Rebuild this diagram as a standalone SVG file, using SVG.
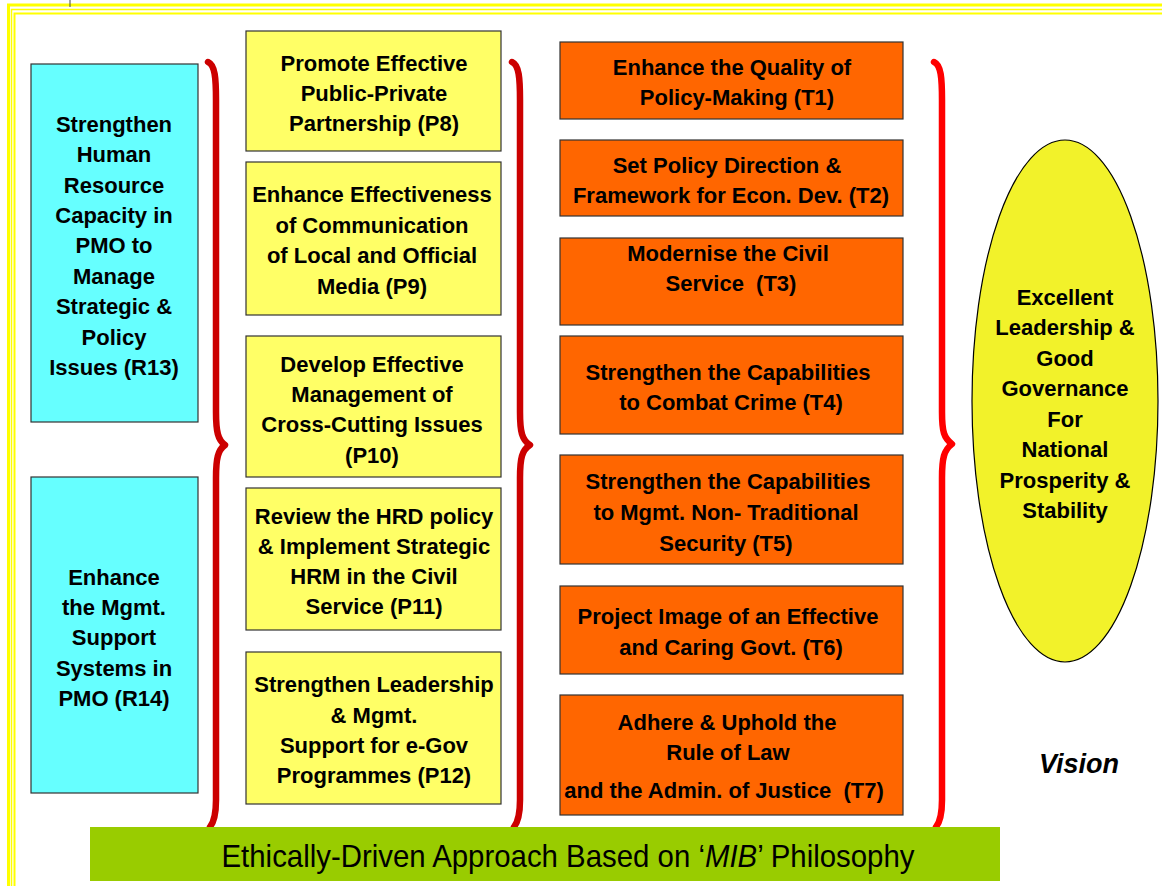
<svg xmlns="http://www.w3.org/2000/svg" width="1162" height="886" viewBox="0 0 1162 886">
<style>
text{font-family:"Liberation Sans",Arial,sans-serif;font-weight:bold;font-size:22px;fill:#000;text-anchor:middle}
.cyan{fill:#66ffff;stroke:#333;stroke-width:1.2}
.yel{fill:#ffff66;stroke:#333;stroke-width:1.2}
.org{fill:#ff6600;stroke:#333;stroke-width:1.2}
.brace{fill:none;stroke-width:6.5;stroke-linecap:round;stroke-linejoin:round}
.frame{fill:none;stroke:#ffff00}
</style>
<rect x="0" y="0" width="1162" height="886" fill="#fff"/>
<g id="frame">
<rect class="frame" x="8.5" y="5" width="1170" height="900" stroke-width="3"/>
<rect class="frame" x="11.5" y="9.5" width="1170" height="900" stroke-width="1.5"/>
<rect class="frame" x="14.5" y="13.5" width="1170" height="900" stroke-width="2"/>
<line x1="70" y1="0" x2="70" y2="7" stroke="#444" stroke-width="1"/>
</g>
<g id="connectors">
<path class="brace" stroke="#cc0000" d="M208,62 C215,65 216,78 216,100 L216,412 C216,432 218,440 225,445 C218,450 216,458 216,478 L216,800 C216,814 214,822 210,827"/>
<path class="brace" stroke="#cc0000" d="M512,62 C519,65 520,78 520,100 L520,412 C520,432 522,440 530,445 C522,450 520,458 520,478 L520,800 C520,814 518,822 514,827"/>
<path class="brace" stroke="#ff0000" d="M934,62 C941,65 942,78 942,100 L942,412 C942,432 944,438 952,444 C944,450 942,458 942,478 L942,800 C942,814 940,822 936,827"/>
</g>
<g id="R13">
<rect class="cyan" x="31" y="64" width="167" height="358"/>
<text x="114" y="132">Strengthen</text>
<text x="114" y="162">Human</text>
<text x="114" y="193">Resource</text>
<text x="114" y="223">Capacity in</text>
<text x="114" y="253">PMO to</text>
<text x="114" y="284">Manage</text>
<text x="114" y="314">Strategic &amp;</text>
<text x="114" y="345">Policy</text>
<text x="114" y="375">Issues (R13)</text>
</g>
<g id="R14">
<rect class="cyan" x="31" y="477" width="167" height="316"/>
<text x="114" y="585">Enhance</text>
<text x="114" y="615">the Mgmt.</text>
<text x="114" y="645">Support</text>
<text x="114" y="676">Systems in</text>
<text x="114" y="706">PMO (R14)</text>
</g>
<g id="P8">
<rect class="yel" x="246" y="31" width="255" height="120"/>
<text x="374" y="71">Promote Effective</text>
<text x="374" y="101">Public-Private</text>
<text x="374" y="131">Partnership (P8)</text>
</g>
<g id="P9">
<rect class="yel" x="246" y="162" width="255" height="153"/>
<text x="372" y="202">Enhance Effectiveness</text>
<text x="372" y="233">of Communication</text>
<text x="372" y="263">of Local and Official</text>
<text x="372" y="294">Media (P9)</text>
</g>
<g id="P10">
<rect class="yel" x="246" y="336" width="255" height="141"/>
<text x="372" y="372">Develop Effective</text>
<text x="372" y="402">Management of</text>
<text x="372" y="432">Cross-Cutting Issues</text>
<text x="372" y="463">(P10)</text>
</g>
<g id="P11">
<rect class="yel" x="246" y="488" width="255" height="142"/>
<text x="374" y="524">Review the HRD policy</text>
<text x="374" y="554">&amp; Implement Strategic</text>
<text x="374" y="584">HRM in the Civil</text>
<text x="374" y="614">Service (P11)</text>
</g>
<g id="P12">
<rect class="yel" x="246" y="652" width="255" height="152"/>
<text x="374" y="692">Strengthen Leadership</text>
<text x="374" y="723">&amp; Mgmt.</text>
<text x="374" y="753">Support for e-Gov</text>
<text x="374" y="783">Programmes (P12)</text>
</g>
<g id="T1">
<rect class="org" x="560" y="42" width="343" height="77"/>
<text x="732" y="75">Enhance the Quality of</text>
<text x="737" y="105">Policy-Making (T1)</text>
</g>
<g id="T2">
<rect class="org" x="560" y="140" width="343" height="76"/>
<text x="727" y="173">Set Policy Direction &amp;</text>
<text x="731" y="203">Framework for Econ. Dev. (T2)</text>
</g>
<g id="T3">
<rect class="org" x="560" y="238" width="343" height="87"/>
<text x="728" y="261">Modernise the Civil</text>
<text x="731" y="291" xml:space="preserve">Service  (T3)</text>
</g>
<g id="T4">
<rect class="org" x="560" y="336" width="343" height="98"/>
<text x="728" y="380">Strengthen the Capabilities</text>
<text x="731" y="410">to Combat Crime (T4)</text>
</g>
<g id="T5">
<rect class="org" x="560" y="455" width="343" height="109"/>
<text x="728" y="489">Strengthen the Capabilities</text>
<text x="726" y="520">to Mgmt. Non- Traditional</text>
<text x="726" y="551">Security (T5)</text>
</g>
<g id="T6">
<rect class="org" x="560" y="586" width="343" height="88"/>
<text x="728" y="624">Project Image of an Effective</text>
<text x="731" y="655">and Caring Govt. (T6)</text>
</g>
<g id="T7">
<rect class="org" x="560" y="695" width="343" height="120"/>
<text x="727" y="730">Adhere &amp; Uphold the</text>
<text x="728" y="760">Rule of Law</text>
<text x="724" y="798" xml:space="preserve">and the Admin. of Justice  (T7)</text>
</g>
<g id="vision">
<ellipse cx="1065" cy="401" rx="93" ry="261" fill="#f2f22a" stroke="#000" stroke-width="1.2"/>
<text x="1065" y="305">Excellent</text>
<text x="1065" y="335">Leadership &amp;</text>
<text x="1065" y="366">Good</text>
<text x="1065" y="396">Governance</text>
<text x="1065" y="427">For</text>
<text x="1065" y="457">National</text>
<text x="1065" y="488">Prosperity &amp;</text>
<text x="1065" y="518">Stability</text>
</g>
<g id="vision-label">
<text x="1079" y="773" style="font-style:italic;font-size:27px">Vision</text>
</g>
<g id="base">
<rect x="90" y="827" width="910" height="54" fill="#99cc00"/>
<text x="568" y="867" style="font-weight:normal;font-size:32px" textLength="693" lengthAdjust="spacingAndGlyphs">Ethically-Driven Approach Based on ‘<tspan style="font-style:italic">MIB</tspan>’ Philosophy</text>
</g>
</svg>
